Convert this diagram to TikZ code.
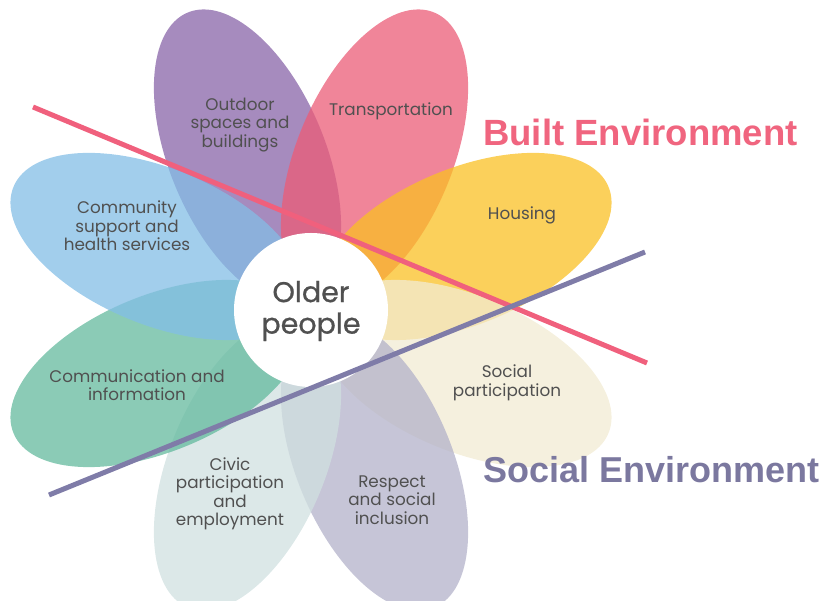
\documentclass[tikz,border=0pt]{standalone}
\usepackage{fontspec}
\setmainfont{Liberation Sans}
\newfontfamily\petalfont{Poppins}
\newfontfamily\olderfont{Poppins}[FakeBold=0.8]
\usetikzlibrary{calc}
\definecolor{cPurple}{RGB}{136,100,168}
\definecolor{cPink}{RGB}{235,92,119}
\definecolor{cYellow}{RGB}{250,192,36}
\definecolor{cCream}{RGB}{242,235,211}
\definecolor{cLav}{RGB}{179,178,202}
\definecolor{cCivic}{RGB}{208,224,224}
\definecolor{cGreen}{RGB}{100,186,158}
\definecolor{cBlue}{RGB}{131,190,230}
\definecolor{cText}{RGB}{80,80,80}
\definecolor{cBuilt}{RGB}{240,101,127}
\definecolor{cSocial}{RGB}{123,120,159}
\definecolor{cPinkLine}{RGB}{240,96,125}
\definecolor{cPurpleLine}{RGB}{127,124,168}
\tikzset{
  petal/.style={fill=#1, fill opacity=0.75},
  petaltext/.style={text=cText, align=center, font=\petalfont\fontsize{16.8}{18.5}\selectfont, inner sep=0pt},
  envtext/.style={anchor=base west, inner sep=0pt, font=\bfseries\fontsize{36.5}{40}\selectfont},
  divider/.style={line width=5pt}
}
\begin{document}
\begin{tikzpicture}[x=1pt,y=1pt]
\useasboundingbox (0,0) rectangle (826,601);
\coordinate (C) at (311,291);
\fill[petal=cPurple, shift={(C)}, rotate=112.5] (166,0) ellipse [x radius=156, y radius=78];
\fill[petal=cPink,   shift={(C)}, rotate=67.5]  (166,0) ellipse [x radius=156, y radius=78];
\fill[petal=cYellow, shift={(C)}, rotate=22.5]  (166,0) ellipse [x radius=156, y radius=78];
\fill[petal=cCream,  shift={(C)}, rotate=-22.5] (166,0) ellipse [x radius=156, y radius=78];
\fill[petal=cLav,    shift={(C)}, rotate=-67.5] (166,0) ellipse [x radius=156, y radius=78];
\fill[petal=cCivic,  shift={(C)}, rotate=-112.5] (166,0) ellipse [x radius=156, y radius=78];
\fill[petal=cGreen,  shift={(C)}, rotate=-157.5] (166,0) ellipse [x radius=156, y radius=78];
\fill[petal=cBlue,   shift={(C)}, rotate=157.5] (166,0) ellipse [x radius=156, y radius=78];
\node[circle, fill=white, minimum size=154pt, inner sep=0pt] (center) at (C) {};
\node[text=cText, align=center, font=\olderfont\fontsize{28.5}{31.5}\selectfont, inner sep=0pt] (older) at (311,290) {Older\\people};
\node[petaltext] (outdoor) at (240,476) {Outdoor\\spaces and\\buildings};
\node[petaltext] (transport) at (391,490) {Transportation};
\node[petaltext] (housing) at (522,386) {Housing};
\node[petaltext] (community) at (127,375) {Community\\support and\\health services};
\node[petaltext] (communication) at (137,216) {Communication and\\information};
\node[petaltext] (civic) at (230,107) {Civic\\participation\\and\\employment};
\node[petaltext] (respect) at (392,101) {Respect\\and social\\inclusion};
\node[petaltext] (socialp) at (507,218) {Social\\participation};
\coordinate (p1) at (33,494);
\coordinate (p2) at (647,238);
\coordinate (q1) at (49,106);
\coordinate (q2) at (645,349);
\draw[divider, cPinkLine] (p1) -- (p2);
\draw[divider, cPurpleLine] (q1) -- (q2);
\node[envtext, text=cBuilt] (built) at (483,455) {Built Environment};
\node[envtext, text=cSocial, font=\bfseries\fontsize{36}{40}\selectfont] (social) at (483,118) {Social Environment};
\end{tikzpicture}
\end{document}
